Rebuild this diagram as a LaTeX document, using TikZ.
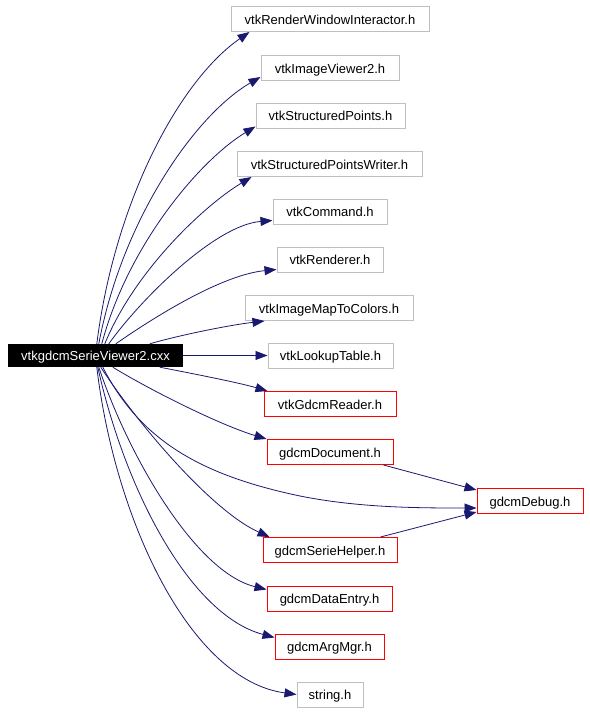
\documentclass[tikz,border=0pt]{standalone}
\usepackage{fontspec}
\setmainfont{Liberation Sans}
\usetikzlibrary{arrows.meta}
\definecolor{edgec}{RGB}{25,25,112}
\definecolor{grayb}{RGB}{191,191,191}
\definecolor{redb}{RGB}{255,0,0}
\begin{document}
\begin{tikzpicture}[x=1pt,y=-1pt,
  every node/.style={font=\fontsize{13pt}{15pt}\selectfont, inner sep=0pt, minimum height=25pt, text height=11pt, text depth=1pt},
  gbox/.style={draw=grayb, line width=1pt},
  rbox/.style={draw=redb, line width=1pt},
  mainbox/.style={fill=black, text=white, minimum height=23pt},
  edge/.style={draw=edgec, line width=0.8pt, -{Triangle[length=12pt,width=9pt]}}]
\useasboundingbox (0,0) rectangle (589,712);
\node[mainbox, minimum width=175pt] (main) at (95.5,355.5) {vtkgdcmSerieViewer2.cxx};
\node[gbox, minimum width=198pt] (rwi) at (330,19) {vtkRenderWindowInteractor.h};
\node[gbox, minimum width=138pt] (iv2) at (330,68) {vtkImageViewer2.h};
\node[gbox, minimum width=149pt] (sp) at (330.5,115.5) {vtkStructuredPoints.h};
\node[gbox, minimum width=185pt] (spw) at (329.5,164) {vtkStructuredPointsWriter.h};
\node[gbox, minimum width=114pt] (cmd) at (330,211.5) {vtkCommand.h};
\node[gbox, minimum width=106pt] (ren) at (330,259.5) {vtkRenderer.h};
\node[gbox, minimum width=168pt] (imtc) at (329,308) {vtkImageMapToColors.h};
\node[gbox, minimum width=125pt] (lut) at (330.5,355.5) {vtkLookupTable.h};
\node[rbox, minimum width=132pt] (gr) at (330,404) {vtkGdcmReader.h};
\node[rbox, minimum width=126pt] (doc) at (330,452) {gdcmDocument.h};
\node[rbox, minimum width=106pt] (dbg) at (530,501) {gdcmDebug.h};
\node[rbox, minimum width=134pt] (sh) at (330,550) {gdcmSerieHelper.h};
\node[rbox, minimum width=125pt] (de) at (329.5,598.5) {gdcmDataEntry.h};
\node[rbox, minimum width=109pt] (am) at (329.5,646.5) {gdcmArgMgr.h};
\node[gbox, minimum width=66pt] (str) at (330,694.5) {string.h};

\path[edge] ([xshift=89pt]main.north west) .. controls (115,200) and (180,80) .. ([xshift=19pt]rwi.south west);
\path[edge] ([xshift=91pt]main.north west) .. controls (122,220) and (195,115) .. ([yshift=-9pt]iv2.west);
\path[edge] ([xshift=94pt]main.north west) .. controls (128,245) and (200,160) .. ([yshift=-11pt]sp.west);
\path[edge] ([xshift=97pt]main.north west) .. controls (135,270) and (205,205) .. ([xshift=15pt]spw.south west);
\path[edge] ([xshift=101pt]main.north west) .. controls (140,300) and (215,225) .. ([yshift=-9pt]cmd.west);
\path[edge] ([xshift=108pt]main.north west) .. controls (150,320) and (220,275) .. ([yshift=-10pt]ren.west);
\path[edge] ([xshift=142pt]main.north west) .. controls (180,335) and (230,325) .. ([xshift=20pt]imtc.south west);
\path[edge] (main.east) -- (lut.west);
\path[edge] ([xshift=152pt]main.south west) .. controls (200,375) and (240,383) .. ([xshift=4pt]gr.north west);
\path[edge] ([xshift=105pt]main.south west) .. controls (150,390) and (220,425) .. (doc.north west);
\path[edge] ([xshift=95pt]main.south west) .. controls (140,440) and (200,475) .. (300,496) .. controls (360,508) and (420,508) .. ([yshift=-7pt]dbg.west);
\path[edge] ([xshift=93pt]main.south west) .. controls (135,420) and (210,510) .. ([xshift=7pt]sh.north west);
\path[edge] ([xshift=91pt]main.south west) .. controls (128,455) and (195,572) .. ([yshift=-4pt]de.north west);
\path[edge] ([xshift=90pt]main.south west) .. controls (125,490) and (190,615) .. ([yshift=-4pt]am.north west);
\path[edge] ([xshift=89pt]main.south west) .. controls (115,520) and (190,680) .. (str.west);
\path[edge] ([xshift=-10pt]doc.south east) -- ([yshift=11pt]dbg.west);
\path[edge] ([xshift=-17pt]sh.north east) -- ([yshift=-11pt]dbg.west);
\end{tikzpicture}
\end{document}
